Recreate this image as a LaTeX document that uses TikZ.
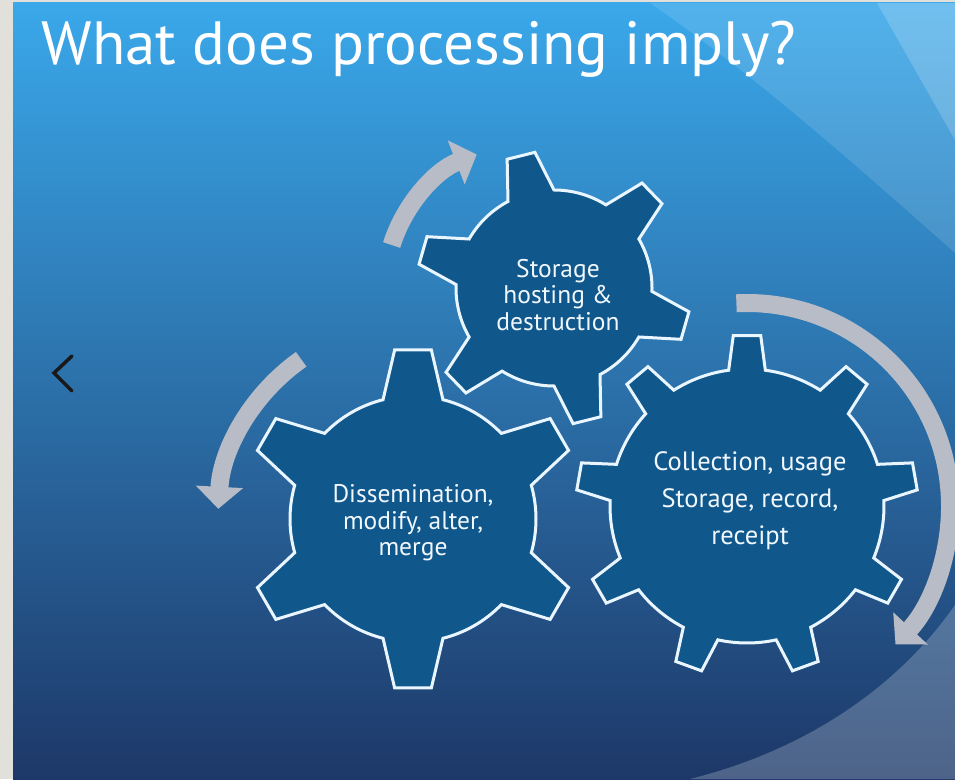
\documentclass[tikz,border=0pt]{standalone}
\usepackage{fontspec}
\setmainfont{PT Sans}
\usetikzlibrary{arrows.meta}
\definecolor{frame}{HTML}{E2E0DA}
\definecolor{skytop}{HTML}{3AA8EA}
\definecolor{skymid}{HTML}{2A78BE}
\definecolor{navy}{HTML}{1D3868}
\definecolor{cog}{HTML}{10578C}
\definecolor{rim}{HTML}{EAF6FF}
\definecolor{ash}{HTML}{B8BCC6}
\definecolor{paper}{HTML}{F0F7FD}

% a cog: centre, teeth, rotation, root radius, tip radius,
% half-angle of a tooth at its root, half-angle at its tip
\newcommand\cogwheel[7]{%
  \draw[cogbody, shift={(#1)}] ({#3-#6}:#4)
    \foreach \k in {1,...,#2}{
      -- ({#3+(\k-1)*360/#2-#7}:#5) -- ({#3+(\k-1)*360/#2+#7}:#5)
      -- ({#3+(\k-1)*360/#2+#6}:#4)
      arc[start angle={#3+(\k-1)*360/#2+#6}, delta angle={360/#2-2*#6}, radius=#4pt]
    } -- cycle;}

\begin{document}
\begin{tikzpicture}[x=1pt, y=1pt,
  cogbody/.style={fill=cog, draw=rim, line width=3pt, line join=miter},
  caption/.style={text=paper, align=center, font=\fontsize{25.5}{26.5}\selectfont},
  rotarrow/.style={draw=ash, line width=18pt, -{Triangle[width=46pt, length=22pt]}},
  chevron/.style={draw=black!90, line width=3.5pt, line cap=round, line join=miter},
]
\useasboundingbox (0,0) rectangle (955,779);

% slide background and its swooshes
\fill[frame] (0,0) rectangle (955,779);
\shade[top color=skytop, middle color=skymid, bottom color=navy] (13,0) rectangle (955,776);
\fill[white, opacity=0.12] (650,776) .. controls (760,700) and (860,610) .. (955,526)
  -- (955,776) -- cycle;
\fill[white, opacity=0.18] (877,776) -- (955,639) -- (955,776) -- cycle;
\fill[white, opacity=0.22] (955,174) .. controls (900,95) and (810,30) .. (690,0)
  -- (955,0) -- cycle;

\node[anchor=base west, text=white, font=\fontsize{61}{61}\selectfont] (heading)
  at (38,714) {What does processing imply?};
\draw[chevron] (72,423) -- (54,406) -- (72,388);

% the three cogs
\coordinate (gstore) at (554,491);
\coordinate (gshare) at (413,260);
\coordinate (gcollect) at (747,273);
\cogwheel{gstore}{6}{104}{98}{137}{14}{6}
\cogwheel{gshare}{6}{90}{123}{170}{14.1}{6.2}
\cogwheel{gcollect}{9}{90}{137}{171}{7.7}{4.6}

\node[caption] (store) at (558,484) {Storage\\hosting \&\\destruction};
\node[caption] (share) at (413,256) {Dissemination,\\modify, alter,\\merge};
\node[caption, font=\fontsize{26.5}{37}\selectfont] (collect) at (750,278)
  {Collection, usage\\Storage, record,\\receipt};

% arrows turning round the cogs
\coordinate (tailstore) at (391.6,534);
\coordinate (tailshare) at (301.2,419.7);
\coordinate (tailcollect) at (736.4,475.7);
\draw[rotarrow] (tailstore) arc[start angle=162.5, end angle=111, radius=143pt];
\draw[rotarrow] (tailshare) arc[start angle=125, end angle=177, radius=195pt];
\draw[rotarrow] (tailcollect) arc[start angle=93, end angle=-43, radius=203pt];
\end{tikzpicture}
\end{document}
